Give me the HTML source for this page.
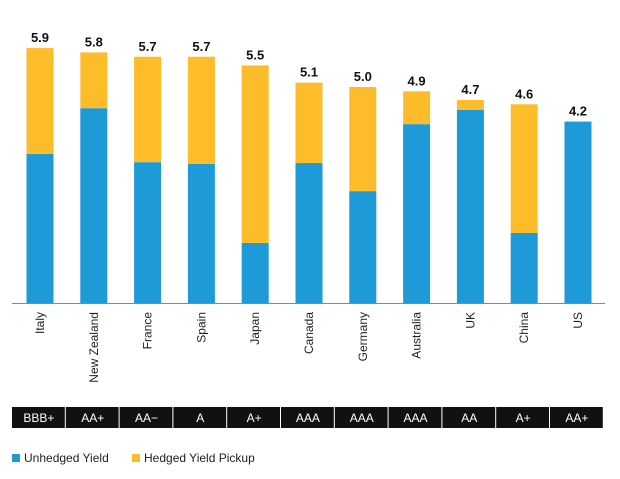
<!DOCTYPE html>
<html><head><meta charset="utf-8"><style>
body{margin:0;background:#fff;font-family:"Liberation Sans",sans-serif}
</style></head><body>
<svg id="chart" width="620" height="474" xmlns="http://www.w3.org/2000/svg"></svg>
<script>
const categories=["Italy","New Zealand","France","Spain","Japan","Canada","Germany","Australia","UK","China","US"];
const unhedged=[3.45,4.51,3.26,3.22,1.39,3.24,2.59,4.14,4.47,1.62,4.2];
const totals=[5.9,5.8,5.7,5.7,5.5,5.1,5.0,4.9,4.7,4.6,4.2];
const ratings=["BBB+","AA+","AA\u2212","A","A+","AAA","AAA","AAA","AA","A+","AA+"];
const svg=document.getElementById('chart');
const NS='http://www.w3.org/2000/svg';
const baseY=303,pxPer=43.2,x0=40,step=53.8,bw=27;
const y=v=>baseY-v*pxPer;
const xc=i=>x0+i*step;
function mk(t,a){const e=document.createElementNS(NS,t);for(const k in a)e.setAttribute(k,a[k]);svg.appendChild(e);return e;}
categories.forEach((c,i)=>{
  const b=mk('rect',{x:xc(i)-bw/2,y:y(unhedged[i]),width:bw,height:unhedged[i]*pxPer,fill:'#1f9ad8'});
  
  
  const h=totals[i]-unhedged[i];
  if(h>0){const r=mk('rect',{x:xc(i)-bw/2,y:y(totals[i]),width:bw,height:h*pxPer,fill:'#fdbd2b'});
    
    }
  const t=mk('text',{x:xc(i),y:y(totals[i])-6,'text-anchor':'middle','font-size':'13','font-weight':'bold',fill:'#111'});
  t.textContent=totals[i].toFixed(1);
  
  
  const l=mk('text',{transform:`translate(${xc(i)+4},312) rotate(-90)`,'text-anchor':'end','font-size':'12',fill:'#222'});
  l.textContent=c;
  
  
  const bx=mk('rect',{x:12+i*step,y:407,width:step-1,height:21,fill:'#111'});
  
  
  const rt=mk('text',{x:12+i*step+step/2,y:422,'text-anchor':'middle','font-size':'12',fill:'#fff'});
  rt.textContent=ratings[i];
  
  
});
const ax=mk('line',{x1:12,x2:605,y1:303.5,y2:303.5,stroke:'#888','stroke-width':1});


const lg=[['#1f9ad8','Unhedged Yield',12],['#fdbd2b','Hedged Yield Pickup',132]];
lg.forEach(([c,t,x],i)=>{
  const s=mk('rect',{x:x,y:454,width:8,height:8,fill:c});
  
  
  const tx=mk('text',{x:x+12,y:462,'font-size':'12',fill:'#222'});
  tx.textContent=t;
  
  
});
</script>
</body></html>
